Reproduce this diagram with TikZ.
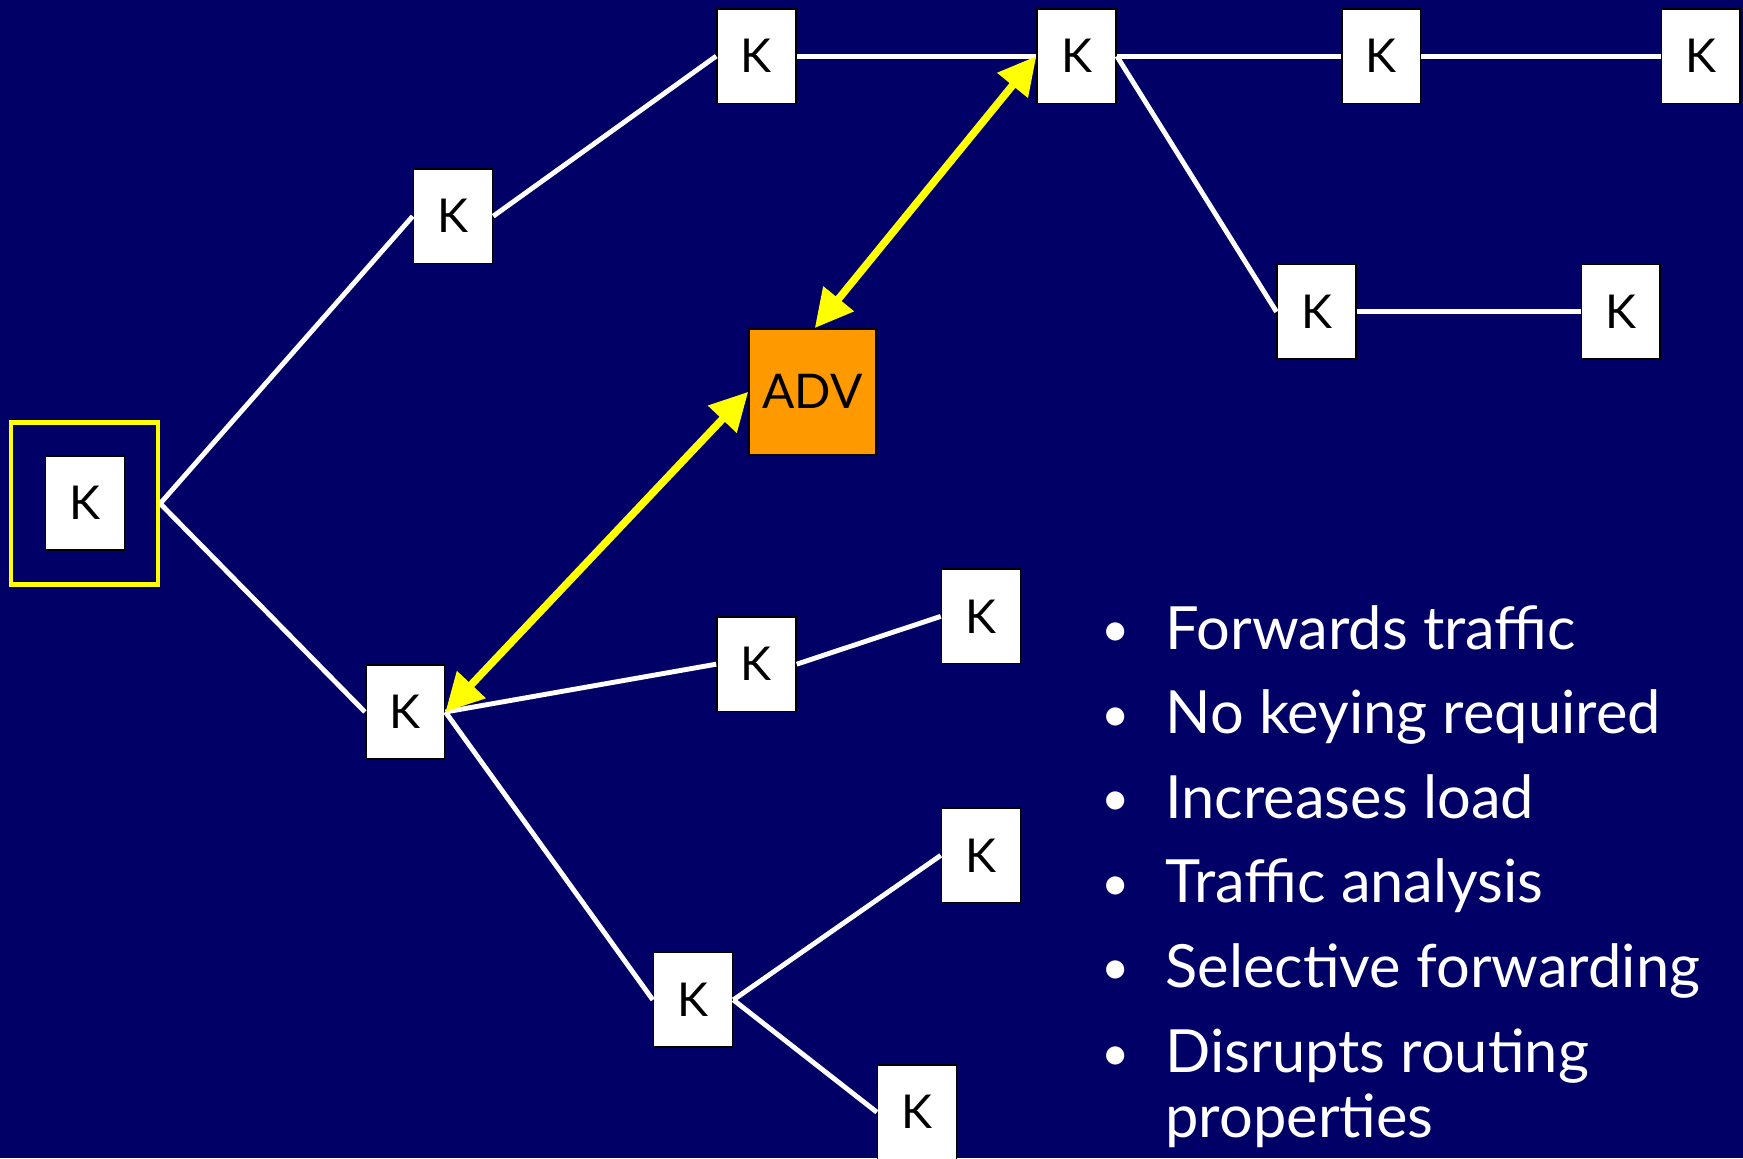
\documentclass[tikz,border=0pt]{standalone}
\usepackage{fontspec}
\setmainfont{Lato}
\usetikzlibrary{arrows.meta}
\definecolor{navy}{RGB}{0,0,102}
\definecolor{advorange}{RGB}{255,153,0}
\definecolor{frameyellow}{RGB}{255,255,0}
\begin{document}
\begin{tikzpicture}[x=0.5pt,y=-0.5pt,
  key/.style={draw=black, line width=0.7pt, fill=white, minimum width=35.5pt,
    minimum height=42.5pt, inner sep=0pt, font=\fontsize{21}{21}\selectfont},
  adv/.style={draw=black, line width=0.9pt, fill=advorange, minimum width=57pt,
    minimum height=56.5pt, inner sep=0pt, font=\fontsize{21.5}{21.5}\selectfont},
  link/.style={white, line width=2.2pt},
  attack/.style={frameyellow, line width=3.4pt,
    {Triangle[length=17pt,width=17pt]}-{Triangle[length=17pt,width=17pt]}},
  bullet/.style={anchor=base, text=white, inner sep=0pt, font=\fontsize{22}{26}\selectfont},
  item/.style={anchor=base west, text=white, inner sep=0pt, font=\fontsize{26.8}{30}\selectfont}]
% background
\fill[navy] (0,0) rectangle (1568,1042);
\useasboundingbox (0,0) rectangle (1568,1042);

% root with its highlight frame
\node[draw=frameyellow, line width=2.1pt, minimum width=66pt, minimum height=73pt] (frame) at (76,453) {};
\node[key] (root) at (76.5,452.5) {K};

% upper branch
\node[key] (u1) at (407.5,194.5) {K};
\node[key] (u2) at (680.5,50.5) {K};
\node[key] (u3) at (968.5,50.5) {K};
\node[key] (u4) at (1242.5,50.5) {K};
\node[key] (u5) at (1530,50.5) {K};
\node[key] (u6) at (1184.5,280.5) {K};
\node[key] (u7) at (1458,280.5) {K};

% lower branch
\node[key] (l1) at (364.5,640.5) {K};
\node[key] (l2) at (680.5,597.5) {K};
\node[key] (l3) at (882.5,554.5) {K};
\node[key] (l4) at (623.5,899.5) {K};
\node[key] (l5) at (882.5,769.5) {K};
\node[key] (l6) at (825,1000.5) {K};

% adversary
\node[adv] (adv) at (731,352.5) {ADV};

% links
\draw[link] (frame.east) -- (u1.west);
\draw[link] (frame.east) -- (l1.west);
\draw[link] (u1.east) -- (u2.west);
\draw[link] (u2.east) -- (u3.west);
\draw[link] (u3.east) -- (u4.west);
\draw[link] (u4.east) -- (u5.west);
\draw[link] (u3.east) -- (u6.west);
\draw[link] (u6.east) -- (u7.west);
\draw[link] (l1.east) -- (l2.west);
\draw[link] (l2.east) -- (l3.west);
\draw[link] (l1.east) -- (l4.west);
\draw[link] (l4.east) -- (l5.west);
\draw[link] (l4.east) -- (l6.west);

% adversary intercepts
\draw[attack] (u3.west) -- ([xshift=1pt]adv.north);
\draw[attack] (adv.west) -- (l1.east);

% properties list
\node[bullet] (b1) at (1004,582) {•};
\node[item] (t1) at (1048,584) {Forwards traffic};
\node[bullet] (b2) at (1004,658) {•};
\node[item] (t2) at (1048,660) {No keying required};
\node[bullet] (b3) at (1004,734) {•};
\node[item] (t3) at (1048,736) {Increases load};
\node[bullet] (b4) at (1004,810) {•};
\node[item] (t4) at (1048,812) {Traffic analysis};
\node[bullet] (b5) at (1004,886) {•};
\node[item] (t5) at (1048,888) {Selective forwarding};
\node[bullet] (b6) at (1004,963) {•};
\node[item] (t6) at (1048,965) {Disrupts routing};
\node[item] (t7) at (1048,1023) {properties};
\end{tikzpicture}
\end{document}
